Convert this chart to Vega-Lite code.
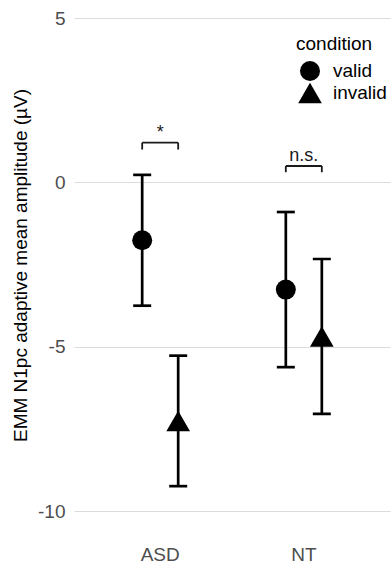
{
  "$schema": "https://vega.github.io/schema/vega-lite/v6.json",
  "autosize": {"type": "none"},
  "padding": {"left": 74, "top": 0, "right": 1, "bottom": 20},
  "width": 316,
  "height": 544,
  "background": "white",
  "config": {
    "font": "Liberation Sans",
    "view": {"stroke": null},
    "legend": {
      "orient": "none",
      "legendX": 222,
      "legendY": 35,
      "padding": 0,
      "titleFontSize": 19,
      "titleFontWeight": "normal",
      "titleColor": "black",
      "titlePadding": 7,
      "labelFontSize": 19,
      "labelColor": "black",
      "labelOffset": 11,
      "symbolOffset": 2,
      "rowPadding": 0,
      "symbolFillColor": "black",
      "symbolStrokeColor": "black",
      "symbolStrokeWidth": 0
    }
  },
  "datasets": {
    "emm": [
      {"group": "ASD", "condition": "valid", "emmean": -1.76, "lower": -3.75, "upper": 0.23},
      {"group": "ASD", "condition": "invalid", "emmean": -7.255, "lower": -9.24, "upper": -5.27},
      {"group": "NT", "condition": "valid", "emmean": -3.26, "lower": -5.62, "upper": -0.9},
      {"group": "NT", "condition": "invalid", "emmean": -4.69, "lower": -7.04, "upper": -2.33}
    ],
    "brackets": [
      {"group": "ASD", "condition": "valid", "top": 1.21, "bottom": 1.0},
      {"group": "ASD", "condition": "invalid", "top": 1.21, "bottom": 1.0},
      {"group": "NT", "condition": "valid", "top": 0.5, "bottom": 0.31},
      {"group": "NT", "condition": "invalid", "top": 0.5, "bottom": 0.31}
    ],
    "labels": [
      {"group": "ASD", "y": 1.21, "label": "*"},
      {"group": "NT", "y": 0.5, "label": "n.s."}
    ]
  },
  "encoding": {
    "x": {
      "field": "group",
      "type": "nominal",
      "sort": ["ASD", "NT"],
      "scale": {"domain": ["ASD", "NT"], "paddingInner": 0.2, "paddingOuter": 0.2},
      "axis": {
        "title": null,
        "labelAngle": 0,
        "labelFontSize": 19,
        "labelColor": "#4d4d4d",
        "labelPadding": 1,
        "ticks": false,
        "domain": false,
        "grid": false
      }
    }
  },
  "layer": [
    {
      "data": {"name": "emm"},
      "mark": {"type": "rule", "strokeWidth": 2.7, "color": "black"},
      "encoding": {
        "xOffset": {"field": "condition", "type": "nominal", "sort": ["valid", "invalid"], "scale": {"domain": ["valid", "invalid"], "paddingInner": 0, "paddingOuter": 0.596}},
        "y": {
          "field": "lower",
          "type": "quantitative",
          "scale": {"domain": [-11, 5.55], "nice": false, "zero": false},
          "axis": {
            "values": [-10, -5, 0, 5],
            "labelExpr": "'' + datum.value",
            "title": "EMM N1pc adaptive mean amplitude (µV)",
            "titleFontSize": 19,
            "titleFontWeight": "normal",
            "titleColor": "black",
            "titleX": -54,
            "titleY": 265,
            "titleAngle": -90,
            "titleAlign": "center",
            "titleBaseline": "middle",
            "labelFontSize": 19,
            "labelColor": "#4d4d4d",
            "labelPadding": 9,
            "ticks": false,
            "domain": false,
            "grid": true,
            "gridColor": "#dcdcdc",
            "gridWidth": 1.1
          }
        },
        "y2": {"field": "upper"}
      }
    },
    {
      "data": {"name": "emm"},
      "mark": {"type": "tick", "orient": "horizontal", "size": 18, "thickness": 2.7, "color": "black", "opacity": 1},
      "encoding": {
        "xOffset": {"field": "condition", "type": "nominal", "sort": ["valid", "invalid"]},
        "y": {"field": "upper", "type": "quantitative"}
      }
    },
    {
      "data": {"name": "emm"},
      "mark": {"type": "tick", "orient": "horizontal", "size": 18, "thickness": 2.7, "color": "black", "opacity": 1},
      "encoding": {
        "xOffset": {"field": "condition", "type": "nominal", "sort": ["valid", "invalid"]},
        "y": {"field": "lower", "type": "quantitative"}
      }
    },
    {
      "data": {"name": "emm"},
      "mark": {"type": "point", "filled": true, "opacity": 1, "color": "black"},
      "encoding": {
        "xOffset": {"field": "condition", "type": "nominal", "sort": ["valid", "invalid"]},
        "y": {"field": "emmean", "type": "quantitative"},
        "shape": {
          "field": "condition",
          "type": "nominal",
          "sort": ["valid", "invalid"],
          "scale": {"domain": ["valid", "invalid"], "range": ["circle", "triangle-up"]},
          "title": "condition"
        },
        "size": {
          "field": "condition",
          "type": "nominal",
          "sort": ["valid", "invalid"],
          "scale": {"domain": ["valid", "invalid"], "range": [400, 560]},
          "title": "condition"
        }
      }
    },
    {
      "data": {"name": "brackets"},
      "mark": {"type": "line", "color": "#1a1a1a", "strokeWidth": 1.8},
      "encoding": {
        "xOffset": {"field": "condition", "type": "nominal", "sort": ["valid", "invalid"]},
        "y": {"field": "top", "type": "quantitative"},
        "detail": {"field": "group", "type": "nominal"}
      }
    },
    {
      "data": {"name": "brackets"},
      "mark": {"type": "rule", "color": "#1a1a1a", "strokeWidth": 1.8},
      "encoding": {
        "xOffset": {"field": "condition", "type": "nominal", "sort": ["valid", "invalid"]},
        "y": {"field": "top", "type": "quantitative"},
        "y2": {"field": "bottom"}
      }
    },
    {
      "data": {"name": "labels"},
      "mark": {"type": "text", "fontSize": 18, "color": "#1a1a1a", "baseline": "alphabetic", "dy": -5},
      "encoding": {
        "y": {"field": "y", "type": "quantitative"},
        "text": {"field": "label"}
      }
    }
  ]
}
